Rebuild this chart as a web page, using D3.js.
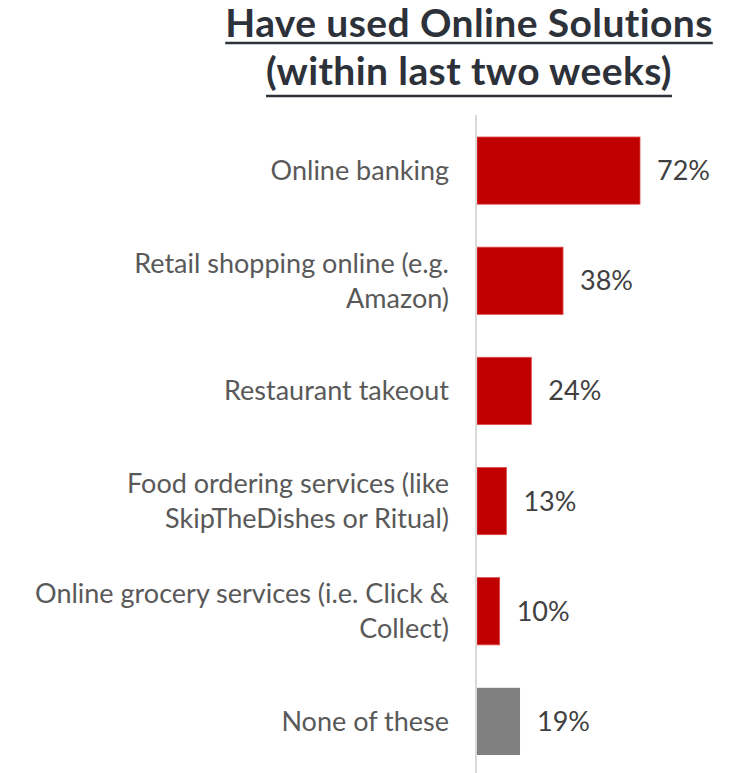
<!DOCTYPE html>
<html>
<head>
<meta charset="utf-8">
<script src="https://cdn.jsdelivr.net/npm/d3@7"></script>
<style>
  html, body { margin: 0; padding: 0; background: #ffffff; }
  svg { display: block; }
</style>
</head>
<body>
<svg id="chart" width="734" height="773"></svg>
<script>
// Share of respondents using each online service in the last two weeks
const titleLines = ["Have used Online Solutions", "(within last two weeks)"];
const categories = [
  ["Online banking"],
  ["Retail shopping online (e.g.", "Amazon)"],
  ["Restaurant takeout"],
  ["Food ordering services (like", "SkipTheDishes or Ritual)"],
  ["Online grocery services (i.e. Click &", "Collect)"],
  ["None of these"]
];
const values = [72, 38, 24, 13, 10, 19];
const highlight = [true, true, true, true, true, false];

const W = 734, H = 773;
const svg = d3.select("#chart");
const font = "Lato, 'Open Sans', sans-serif";

// Title with underline
const titleG = svg.append("g");
const titleY = [37, 85];
const underlineY = [43, 96];
titleLines.forEach((t, i) => {
  const txt = titleG.append("text")
    .attr("x", 469).attr("y", titleY[i])
    .attr("text-anchor", "middle")
    .attr("font-family", font)
    .attr("font-weight", 700)
    .attr("font-size", 39)
    .attr("letter-spacing", 0.4)
    .attr("fill", "#2d3139")
    .text(t);
  const bb = txt.node().getBBox();
  titleG.append("line")
    .attr("x1", bb.x).attr("x2", bb.x + bb.width)
    .attr("y1", underlineY[i]).attr("y2", underlineY[i])
    .attr("stroke", "#2d3139").attr("stroke-width", 2.5);
});

const idx = d3.range(values.length);
const y = d3.scaleBand().domain(idx).range([137, 755]).paddingInner(0.39).paddingOuter(0);
const x = d3.scaleLinear().domain([0, 100]).range([477, 477 + 226.4]);

// Bars
svg.append("g").selectAll("rect")
  .data(idx)
  .join("rect")
  .attr("x", x(0))
  .attr("y", i => y(i))
  .attr("width", i => x(values[i]) - x(0))
  .attr("height", y.bandwidth())
  .attr("fill", i => highlight[i] ? "#c00000" : "#808080")
  .attr("stroke", i => highlight[i] ? "#e04a4a" : "none")
  .attr("stroke-width", 0.8);

// Category axis line
svg.append("line")
  .attr("x1", 476).attr("x2", 476)
  .attr("y1", 115).attr("y2", H)
  .attr("stroke", "#d9d9d9").attr("stroke-width", 2);

// Category labels
const labelG = svg.append("g");
idx.forEach(i => {
  const lines = categories[i];
  const cy = y(i) + y.bandwidth() / 2;
  const lh = 35;
  lines.forEach((l, j) => {
    labelG.append("text")
      .attr("x", 449)
      .attr("y", cy + (j - (lines.length - 1) / 2) * lh)
      .attr("dy", "0.35em")
      .attr("text-anchor", "end")
      .attr("font-family", font)
      .attr("font-size", 27)
      .attr("fill", "#595959")
      .text(l);
  });
});

// Value labels
svg.append("g").selectAll("text")
  .data(idx)
  .join("text")
  .attr("x", i => x(values[i]) + 17)
  .attr("y", i => y(i) + y.bandwidth() / 2)
  .attr("dy", "0.35em")
  .attr("font-family", font)
  .attr("font-size", 27)
  .attr("fill", "#404040")
  .text(i => values[i] + "%");
</script>
</body>
</html>
